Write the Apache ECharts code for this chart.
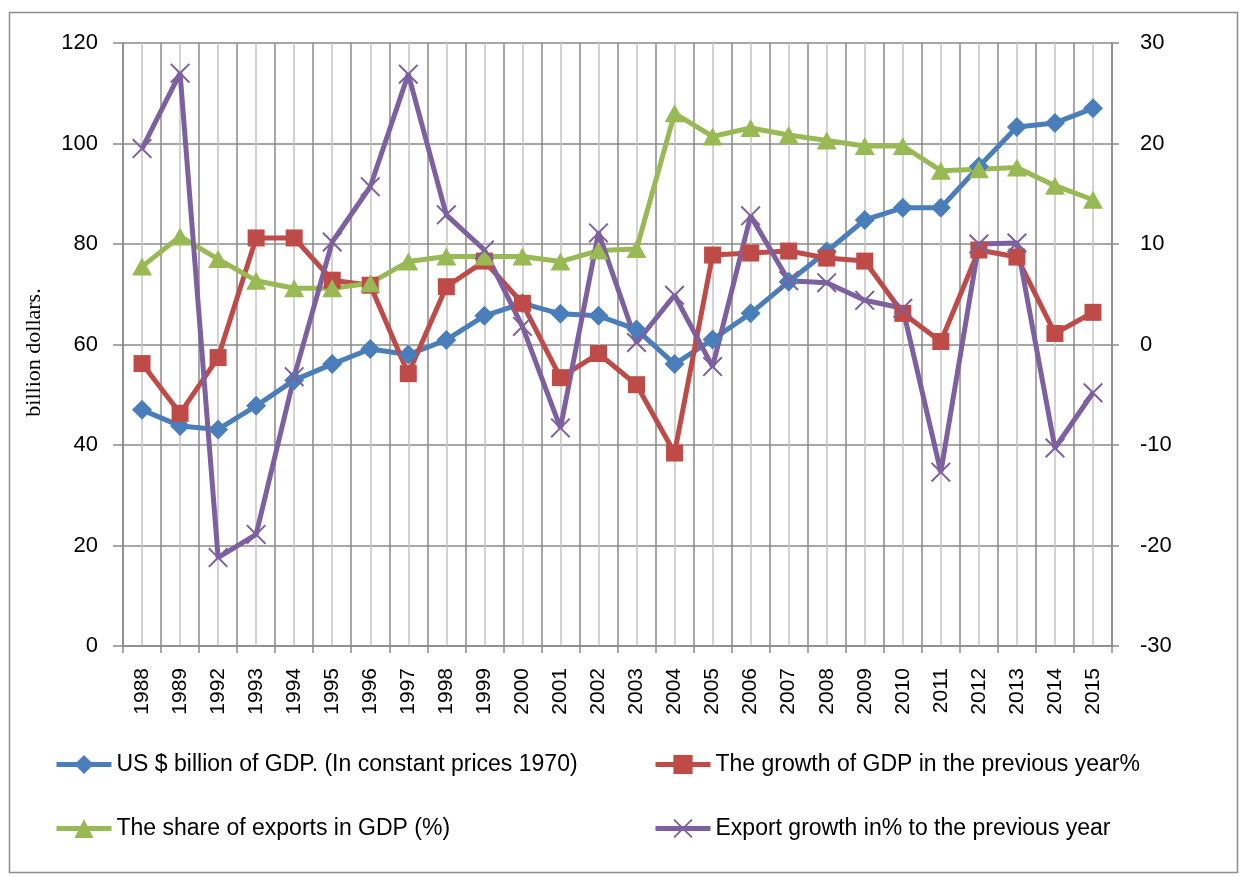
<!DOCTYPE html>
<html>
<head>
<meta charset="utf-8">
<script src="https://cdn.jsdelivr.net/npm/echarts@6/dist/echarts.min.js"></script>
<style>
html,body{margin:0;padding:0;background:#fff;}
#chart{width:1240px;height:877px;}
</style>
</head>
<body>
<div id="chart"></div>
<script>
const categories = ['1988','1989','1992','1993','1994','1995','1996','1997','1998','1999','2000','2001','2002','2003','2004','2005','2006','2007','2008','2009','2010','2011','2012','2013','2014','2015'];
// left axis (billion dollars / %)
const gdp = [47.0,43.8,43.1,47.8,52.9,56.1,59.1,58.0,60.9,65.7,68.2,66.1,65.7,63.0,56.1,61.0,66.2,72.5,78.5,84.8,87.2,87.2,95.4,103.3,104.1,107.0];
const exportShare = [75.5,81.5,77.0,72.7,71.2,71.2,72.2,76.5,77.5,77.5,77.5,76.5,78.7,79.0,106.0,101.4,103.1,101.7,100.6,99.5,99.5,94.6,94.9,95.2,91.6,88.8];
// right axis (%)
const gdpGrowth = [-1.9,-6.85,-1.3,10.6,10.6,6.4,5.9,-2.9,5.75,8.3,4.1,-3.3,-0.9,-4.0,-10.8,8.9,9.1,9.3,8.6,8.3,3.1,0.3,9.4,8.7,1.1,3.2];
const exportGrowth = [19.5,27.0,-21.2,-18.9,-3.2,10.2,15.7,26.9,12.9,9.4,1.8,-8.3,11.1,0.2,4.9,-2.2,12.8,6.35,6.15,4.4,3.6,-12.7,10.0,10.1,-10.3,-4.8];

const seriesNames = [
  'US $ billion of GDP. (In constant prices 1970)',
  'The growth of GDP in the previous year%',
  'The share of exports in GDP (%)',
  'Export growth in% to the previous year'
];
const leftAxis = {min: 0, max: 120, interval: 20};
const rightAxis = {min: -30, max: 30, interval: 10};

const BLUE = '#4A7EBB', RED = '#BE4B48', GREEN = '#98B954', PURPLE = '#7D60A0';
const GRID_DARK = '#8a8a8a', GRID_LIGHT = '#c4c4c4';
const FONT = 'Liberation Sans';
const X_SYMBOL = 'path://M1.4,0L10,8.6L18.6,0L20,1.4L11.4,10L20,18.6L18.6,20L10,11.4L1.4,20L0,18.6L8.6,10L0,1.4Z';

const chart = echarts.init(document.getElementById('chart'), null, {renderer: 'canvas'});

function legendAt(name, left, top) {
  return {
    data: [name], left: left, top: top, orient: 'horizontal',
    itemWidth: 55, itemHeight: 24, itemGap: 5, padding: 0,
    lineStyle: {width: 5},
    textStyle: {fontFamily: FONT, fontSize: 23, color: '#000', padding: [0,0,0,0]},
    selectedMode: false
  };
}

const option = {
  animation: false,
  backgroundColor: '#fff',
  graphic: [{
    type: 'rect', shape: {x: 9.5, y: 12.5, width: 1228, height: 860},
    style: {fill: 'none', stroke: '#8c8c8c', lineWidth: 1.5}, silent: true, z: -1
  }],
  grid: {left: 123, right: 128, top: 43, bottom: 231, containLabel: false},
  legend: [
    legendAt(seriesNames[0], 54, 753),
    legendAt(seriesNames[1], 653, 753),
    legendAt(seriesNames[2], 54, 817),
    legendAt(seriesNames[3], 653, 817)
  ],
  xAxis: [{
    type: 'category', data: categories, boundaryGap: true, position: 'bottom',
    axisLine: {show: true, lineStyle: {color: GRID_DARK, width: 1.5}},
    axisTick: {show: true, length: 7, interval: 0, lineStyle: {color: GRID_DARK, width: 1.5}},
    splitLine: {show: true, interval: 0, lineStyle: {color: GRID_DARK, width: 1.5}},
    axisLabel: {interval: 0, rotate: 90, margin: 22, fontFamily: FONT, fontSize: 21, color: '#000'}
  }, {
    type: 'category', data: categories, boundaryGap: true, position: 'bottom',
    axisLine: {show: false}, axisTick: {show: false}, axisLabel: {show: false},
    splitLine: {show: true, interval: 0, alignWithLabel: true, lineStyle: {color: GRID_LIGHT, width: 1.5}}
  }],
  yAxis: [{
    type: 'value', position: 'left', min: leftAxis.min, max: leftAxis.max, interval: leftAxis.interval,
    name: 'billion dollars.', nameLocation: 'middle', nameGap: 78, nameRotate: 90,
    nameTextStyle: {fontFamily: 'Liberation Serif', fontSize: 22, color: '#000', padding: [0, 0, 0, -16]},
    axisLine: {show: true, lineStyle: {color: GRID_DARK, width: 1.5}},
    axisTick: {show: true, length: 10, lineStyle: {color: GRID_DARK, width: 1.5}},
    splitLine: {show: true, lineStyle: {color: GRID_DARK, width: 1.5}},
    axisLabel: {margin: 25, fontFamily: FONT, fontSize: 22, color: '#000'}
  }, {
    type: 'value', position: 'right', min: rightAxis.min, max: rightAxis.max, interval: rightAxis.interval,
    axisLine: {show: true, lineStyle: {color: GRID_DARK, width: 1.5}},
    axisTick: {show: true, length: 7, lineStyle: {color: GRID_DARK, width: 1.5}},
    splitLine: {show: false},
    axisLabel: {margin: 28, fontFamily: FONT, fontSize: 22, color: '#000'}
  }],
  series: [{
    name: seriesNames[0], type: 'line', xAxisIndex: 0, yAxisIndex: 0, data: gdp,
    symbol: 'diamond', symbolSize: [20, 20],
    lineStyle: {color: BLUE, width: 5}, itemStyle: {color: BLUE}
  }, {
    name: seriesNames[1], type: 'line', xAxisIndex: 0, yAxisIndex: 1, data: gdpGrowth,
    symbol: 'rect', symbolSize: 17,
    lineStyle: {color: RED, width: 5}, itemStyle: {color: RED}
  }, {
    name: seriesNames[2], type: 'line', xAxisIndex: 0, yAxisIndex: 0, data: exportShare,
    symbol: 'triangle', symbolSize: [20, 18],
    lineStyle: {color: GREEN, width: 5}, itemStyle: {color: GREEN}
  }, {
    name: seriesNames[3], type: 'line', xAxisIndex: 0, yAxisIndex: 1, data: exportGrowth,
    symbol: X_SYMBOL, symbolSize: 20,
    lineStyle: {color: PURPLE, width: 5}, itemStyle: {color: PURPLE}
  }]
};
chart.setOption(option);
</script>
</body>
</html>
